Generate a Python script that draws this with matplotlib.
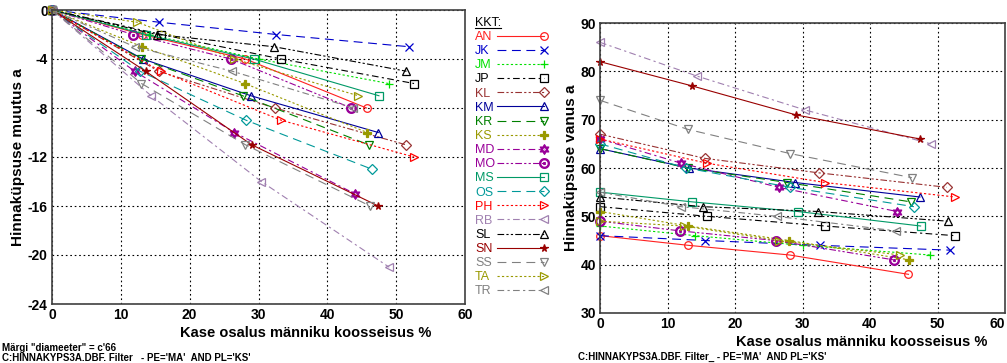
import matplotlib
matplotlib.use('Agg')
import matplotlib.pyplot as plt
from matplotlib.legend_handler import HandlerLine2D
from matplotlib.lines import Line2D

plt.rcParams['font.family'] = ['Liberation Sans', 'DejaVu Sans']
plt.rcParams['axes.unicode_minus'] = False

# KKT codes (legend order)
kkt = ['AN', 'JK', 'JM', 'JP', 'KL', 'KM', 'KR', 'KS', 'MD',
       'MO', 'MS', 'OS', 'PH', 'RB', 'SL', 'SN', 'SS', 'TA', 'TR']

# birch share in pine stand, % (same x for both panels)
kase_osalus = [
    [0, 13.1, 28.1, 45.7],   # AN
    [0, 15.6, 32.6, 51.9],   # JK
    [0, 14.1, 30.0, 48.9],   # JM
    [0, 15.9, 33.3, 52.6],   # JP
    [0, 15.5, 32.4, 51.4],   # KL
    [0, 13.2, 28.9, 47.4],   # KM
    [0, 13.0, 27.7, 46.0],   # KR
    [0, 13.1, 28.0, 45.8],   # KS
    [0, 12.0, 26.5, 44.0],   # MD
    [0, 11.8, 26.0, 43.5],   # MO
    [0, 13.6, 29.3, 47.5],   # MS
    [0, 12.8, 28.2, 46.5],   # OS
    [0, 15.8, 33.3, 52.6],   # PH
    [0, 14.4, 30.4, 49.0],   # RB
    [0, 15.2, 32.3, 51.5],   # SL
    [0, 13.6, 29.0, 47.4],   # SN
    [0, 13.0, 28.1, 46.2],   # SS
    [0, 12.4, 26.5, 44.5],   # TA
    [0, 12.0, 26.2, 43.8],   # TR
]

# change of maturity age, years (left panel)
muutus = [
    [0, -2, -4, -8], [0, -1, -2, -3], [0, -2, -4, -6], [0, -2, -4, -6],
    [0, -5, -8, -11], [0, -4, -7, -10], [0, -4, -7, -11], [0, -3, -6, -10],
    [0, -5, -10, -15], [0, -2, -4, -8], [0, -2, -4, -7], [0, -5, -9, -13],
    [0, -5, -9, -12], [0, -7, -14, -21], [0, -2, -3, -5], [0, -5, -11, -16],
    [0, -6, -11, -16], [0, -1, -4, -7], [0, -3, -5, -8],
]

# maturity age, years (right panel)
vanus = [
    [46, 44, 42, 38], [46, 45, 44, 43], [48, 46, 44, 42], [52, 50, 48, 46],
    [67, 62, 59, 56], [64, 60, 57, 54], [64, 60, 57, 53], [51, 48, 45, 41],
    [66, 61, 56, 51], [49, 47, 45, 41], [55, 53, 51, 48], [65, 60, 56, 52],
    [66, 61, 57, 54], [86, 79, 72, 65], [54, 52, 51, 49], [82, 77, 71, 66],
    [74, 68, 63, 58], [49, 48, 45, 42], [55, 52, 50, 47],
]

colors = ['#ff2020', '#0000cc', '#00e000', '#000000', '#993333', '#000099',
          '#008000', '#999900', '#990099', '#990099', '#009966', '#009999',
          '#ff0000', '#a080b0', '#000000', '#990000', '#808080', '#999900',
          '#808080']
DASH = (0, (8, 5))
DOT = (0, (2, 2))
DDOT = (0, (6, 3, 2, 3))
DDDOT = (0, (6, 2, 2, 2, 2, 2))
styles = ['-', DASH, DOT, DDOT, DDDOT, '-', DASH, DOT, DDOT,
          DDDOT, '-', DASH, DOT, DDOT, DDDOT, '-', DASH, DOT, DDOT]
markers = ['o', 'x', '+', 's', 'D', '^', 'v', 'P', '$\u2721$',
           '$\\odot$', 's', 'D', '>', '<', '^', '*', 'v', '>', '<']
filled = {'x', '+', 'P', '*', '$\u2721$', '$\\odot$'}


class EndMarker(HandlerLine2D):
    # marker at the right end of the legend line
    def create_artists(self, legend, orig_handle, xdescent, ydescent,
                       width, height, fontsize, trans):
        arts = super().create_artists(legend, orig_handle, xdescent, ydescent,
                                      width, height, fontsize, trans)
        arts[0].set_markevery([2])
        return arts


fig = plt.figure(figsize=(10.07, 3.63), dpi=100)
ax1 = fig.add_axes([52 / 1007, 59 / 363, 413 / 1007, 294 / 363])
ax2 = fig.add_axes([600 / 1007, 50 / 363, 405 / 1007, 290 / 363])

handles = []
for i, code in enumerate(kkt):
    m = markers[i]
    ms = 7 if m.startswith('$') else 5.5
    kw = dict(color=colors[i], linestyle=styles[i], linewidth=0.8,
              marker=m, markersize=ms, markeredgewidth=0.9,
              markerfacecolor=colors[i] if m in filled else 'none',
              markeredgecolor=colors[i], clip_on=False, label=code)
    line, = ax1.plot(kase_osalus[i], muutus[i], **kw)
    ax2.plot(kase_osalus[i], vanus[i], **kw)
    handles.append(line)

for ax in (ax1, ax2):
    ax.set_xlim(0, 60)
    ax.set_xticks(range(0, 61, 10))
    ax.grid(True, color='black', linestyle=(0, (1.5, 2.5)), linewidth=0.8)
    ax.set_axisbelow(True)
    ax.tick_params(length=0, labelsize=10, pad=3)
    for lbl in ax.get_xticklabels() + ax.get_yticklabels():
        lbl.set_fontweight('bold')
    for sp in ax.spines.values():
        sp.set_color('#404040')
        sp.set_linewidth(1.2)
    ax.set_xlabel('Kase osalus männiku koosseisus %', fontsize=10.5,
                  fontweight='bold', labelpad=1)

ax1.set_ylim(-24, 0)
ax1.set_yticks(range(-24, 1, 4))
ax1.set_ylabel('Hinnaküpsuse muutus a', fontsize=11, fontweight='bold',
               labelpad=2)
ax1.xaxis.set_label_coords(0.615, -0.075)

ax2.set_ylim(30, 90)
ax2.set_yticks(range(30, 91, 10))
ax2.set_ylabel('Hinnaküpsuse vanus a', fontsize=11, fontweight='bold',
               labelpad=2)
ax2.xaxis.set_label_coords(0.645, -0.075)
ax2.get_xticklabels()[-1].set_horizontalalignment('right')

# legend: left-aligned coloured codes, then line samples with end markers
leg_kw = dict(loc='upper left', frameon=False, numpoints=1, fontsize=9,
              title_fontsize=9, labelspacing=0.17, borderpad=0,
              borderaxespad=0, alignment='left')
blank = [Line2D([], [], linestyle='none') for _ in kkt]
leg = fig.legend(blank, kkt, bbox_to_anchor=(475 / 1007, 1 - 17 / 363),
                 labelcolor=colors, title='KKT:', handlelength=0,
                 handletextpad=0, **leg_kw)
fig.legend(handles, [''] * len(kkt),
           bbox_to_anchor=(497 / 1007, 1 - 17 / 363), title=' ',
           handlelength=3.75, handletextpad=0,
           handler_map={Line2D: EndMarker()}, **leg_kw)

fig.text(2 / 1007, 1 - 348 / 363, 'Märgi "diameeter" = c\'66', fontsize=7,
         fontweight='bold', va='center')
fig.text(2 / 1007, 1 - 358 / 363,
         "C:HINNAKYPS3A.DBF. Filter   - PE='MA'  AND PL='KS'", fontsize=7,
         fontweight='bold', va='center')
fig.text(578 / 1007, 1 - 357 / 363,
         "C:HINNAKYPS3A.DBF. Filter_ - PE='MA'  AND PL='KS'", fontsize=7,
         fontweight='bold', va='center')

# underline the legend title
fig.canvas.draw()
bb = leg.get_title().get_window_extent().transformed(fig.transFigure.inverted())
fig.add_artist(Line2D([bb.x0, bb.x1], [bb.y0 + 0.004, bb.y0 + 0.004],
                      color='black', linewidth=0.8,
                      transform=fig.transFigure))

fig.savefig('out.png', dpi=100)
